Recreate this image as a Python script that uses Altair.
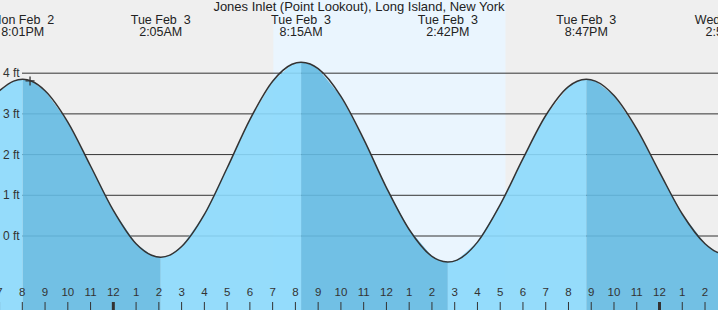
import altair as alt
import pandas as pd

# ---- data (hours counted from Mon Feb 2, 8:00 PM) ----
hours = [-1, -0.383, 0.017, 0.417, 1, 2, 3, 4, 5, 5.683, 6.083, 6.483, 7, 8, 9, 10, 11,
         11.85, 12.25, 12.65, 13, 14, 15, 16, 17, 18, 18.3, 18.7, 19.1, 20, 21, 22, 23, 24,
         24.383, 24.783, 25.183, 26, 27, 28, 29, 30, 30.5, 30.967]
heights = [3.57, 3.806, 3.85, 3.803, 3.57, 2.80, 1.72, 0.63, -0.19, -0.473, -0.52, -0.470, -0.26,
           0.53, 1.67, 2.86, 3.80, 4.22, 4.27, 4.224, 4.11, 3.43, 2.38, 1.19, 0.16, -0.50, -0.594,
           -0.64, -0.592, -0.15, 0.77, 1.90, 2.96, 3.67, 3.802, 3.85, 3.806, 3.45, 2.63, 1.57,
           0.54, -0.19, -0.39, -0.45]

ext_hours = [0.017, 6.083, 12.25, 18.7, 24.783, 30.967]
ext_heights = [3.85, -0.52, 4.27, -0.64, 3.85, -0.45]
ext_day = ["Mon Feb\u00a0\u00a02", "Tue Feb\u00a0\u00a03", "Tue Feb\u00a0\u00a03",
           "Tue Feb\u00a0\u00a03", "Tue Feb\u00a0\u00a03", "Wed Feb\u00a0\u00a04"]
ext_time = ["8:01PM", "2:05AM", "8:15AM", "2:42PM", "8:47PM", "2:58AM"]

grid_ft = [0, 1, 2, 3, 4]
grid_labels = ["0 ft", "1 ft", "2 ft", "3 ft", "4 ft"]

tick_hours = list(range(-1, 32))
tick_labels = ["7", "8", "9", "10", "11", "12", "1", "2", "3", "4", "5", "6", "7", "8", "9",
               "10", "11", "12", "1", "2", "3", "4", "5", "6", "7", "8", "9", "10", "11", "12",
               "1", "2", "3"]
midnight_hours = [4, 28]

sunrise, sunset = 11.03, 21.23
now_hour, now_height = 0.34, 3.81
x_domain = [-0.98, 30.57]
y_domain = [-1.818, 5.798]
title = "Jones Inlet (Point Lookout), Long Island, New York"

W, H = 718, 310
FONT = "Liberation Sans"

# ---- tables ----
curve = pd.DataFrame({"t": hours, "h": heights})

# split the curve into rising (flood) / falling (ebb) pieces, sharing the extreme points
bounds = [x_domain[0] - 1] + ext_hours + [x_domain[1] + 5]
rows = []
for i in range(len(bounds) - 1):
    lo, hi = bounds[i], bounds[i + 1]
    phase = "ebb" if i % 2 == 1 else "flood"
    for t, h in zip(hours, heights):
        if lo - 1e-9 <= t <= hi + 1e-9:
            rows.append({"t": t, "h": h, "seg": i, "phase": phase})
segs = pd.DataFrame(rows)

ext = pd.DataFrame({"t": ext_hours, "h": ext_heights, "day": ext_day, "time": ext_time})
grid = pd.DataFrame({"h": grid_ft, "label": grid_labels})
ticks = pd.DataFrame({"t": tick_hours, "label": tick_labels,
                      "mid": [h in midnight_hours for h in tick_hours]})
day = pd.DataFrame({"t": [sunrise], "t2": [sunset]})
now = pd.DataFrame({"t": [now_hour], "h": [now_height]})

xs = alt.Scale(domain=x_domain, nice=False, zero=False)
ys = alt.Scale(domain=y_domain, nice=False, zero=False)
X = alt.X("t:Q", scale=xs, axis=None)
Y = alt.Y("h:Q", scale=ys, axis=None)

daylight = alt.Chart(day).mark_rect(color="#eaf5fe").encode(
    x=X, x2="t2:Q", y=alt.value(0), y2=alt.value(H))

grid_dark = alt.Chart(grid).mark_rule(color="#333333", strokeWidth=1).encode(
    x=alt.value(22), x2=alt.value(W), y=Y)

areas = alt.Chart(segs).mark_area(opacity=0.9, clip=True).encode(
    x=X, y=alt.Y("h:Q", scale=ys, axis=None, stack=None), y2=alt.value(H),
    color=alt.Color("phase:N", legend=None,
                    scale=alt.Scale(domain=["flood", "ebb"], range=["#8bd9fc", "#64bae2"])),
    detail="seg:N")

line = alt.Chart(curve).mark_line(color="#333333", strokeWidth=1.5,
                                  interpolate="monotone", clip=True).encode(x=X, y=Y)

marker = alt.Chart(now).mark_point(shape="M-1,0L1,0M0,-1L0,1", size=81, filled=False,
                                   color="#333333", strokeWidth=1.3, opacity=1).encode(x=X, y=Y)

tick_rules = alt.Chart(ticks).mark_rule(color="#333333").encode(
    x=X, y=alt.value(302), y2=alt.value(H),
    strokeWidth=alt.condition("datum.mid", alt.value(3), alt.value(1)))

tick_text = alt.Chart(ticks).mark_text(font=FONT, fontSize=11.5, color="#333333",
                                       baseline="middle", align="center").encode(
    x=X, y=alt.value(293), text="label:N")

y_text = alt.Chart(grid).mark_text(font=FONT, fontSize=12, color="#333333",
                                   baseline="middle", align="left").encode(
    x=alt.value(3), y=Y, text="label:N")

ext_day_text = alt.Chart(ext).mark_text(font=FONT, fontSize=12.5, color="#222222",
                                        baseline="middle", align="center").encode(
    x=X, y=alt.value(20), text="day:N")
ext_time_text = alt.Chart(ext).mark_text(font=FONT, fontSize=12.5, color="#222222",
                                         baseline="middle", align="center").encode(
    x=X, y=alt.value(31.5), text="time:N")

title_text = alt.Chart(pd.DataFrame({"label": [title]})).mark_text(
    font=FONT, fontSize=13, color="#222222", baseline="middle", align="center").encode(
    x=alt.value(359), y=alt.value(7), text="label:N")

chart = alt.layer(
    daylight, grid_dark, areas, line, marker, tick_rules, tick_text, y_text,
    ext_day_text, ext_time_text, title_text
).properties(
    width=W, height=H, padding=0, autosize=alt.AutoSizeParams(type="none"),
    background="#efefef"
).configure_view(stroke=None, fill="#efefef")

chart.save("out.html", embed_options={"renderer": "svg", "actions": False})
